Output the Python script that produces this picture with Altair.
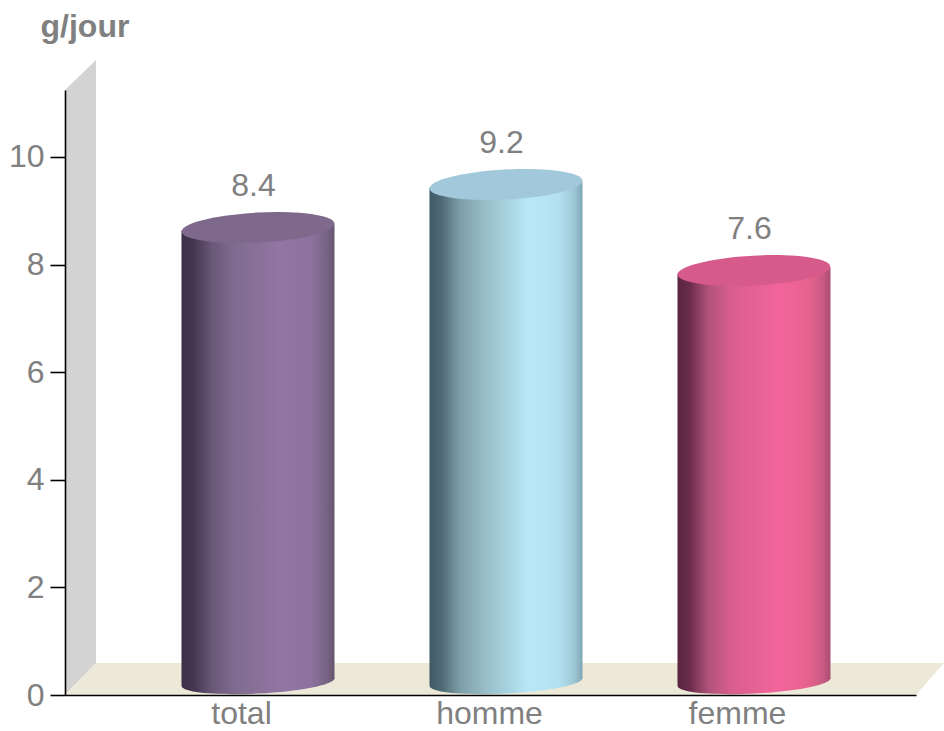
import altair as alt
import pandas as pd

categories = ["total", "homme", "femme"]
values = [8.4, 9.2, 7.6]
tops = ["#7e688c", "#a2c9db", "#d65a8a"]
shades = [
    ["#3c2f47", "#45364f", "#6a5878", "#806c90", "#9276a3", "#8c729c", "#776384", "#66556f"],
    ["#3f5a64", "#4f6a74", "#7d9fa9", "#96bbc5", "#b8e8f8", "#b2e0f0", "#9cc5d4", "#7fa5b4"],
    ["#5a2540", "#6b2c4b", "#b0527a", "#d85e8d", "#f2659b", "#e8628f", "#c95a83", "#a84e70"],
]
shade_offsets = [0, 0.08, 0.2, 0.35, 0.65, 0.85, 0.95, 1]
y_ticks = [0, 2, 4, 6, 8, 10]

FONT = "Liberation Sans"
GREY = "#808080"
TEXT_SIZE = 32

# Scales: one x unit is the spacing between categories, y is in g/jour.
X_MIN, X_MAX = -0.7097, 2.7218
Y_MAX = 11.245
x_scale = alt.Scale(domain=[X_MIN, X_MAX], nice=False, zero=False)
y_scale = alt.Scale(domain=[0, Y_MAX], nice=False, zero=False)

# Oblique depth of the box, and of the cylinders standing inside it.
BOX_DX, BOX_DY = 0.125, 0.595
BOX_END_DX = 0.113
BOX_TOP_DY = 0.558
CYL_DX, CYL_DY = 0.0685, 0.288
CYL_BASE = 0.24
CYL_RADIUS = 0.3085
CYL_TILT = 0.06
CYL_DIAMETER_PX = 153

TOP_ELLIPSE = "M-1,0 A1,0.196 0 1 0 1,0 A1,0.196 0 1 0 -1,0 Z"
BASE_ELLIPSE = "M-1,0 A1,0.15 0 1 0 1,0 A1,0.15 0 1 0 -1,0 Z"

label_lookup = "[" + ",".join(f"'{c}'" for c in categories) + "][datum.value]"
x_axis = alt.Axis(
    values=[0, 1, 2], labelExpr=label_lookup, title=None, grid=False, ticks=False,
    domainColor="#000000", domainWidth=1.6, labelFont=FONT, labelFontSize=TEXT_SIZE,
    labelColor=GREY, labelPadding=3, labelBaseline="top", zindex=1,
)
y_axis = alt.Axis(
    values=y_ticks, title="g/jour", titleAngle=0, titleFont=FONT, titleFontSize=TEXT_SIZE,
    titleFontWeight="bold", titleColor=GREY, titleAlign="left", titleBaseline="alphabetic",
    titleX=-25, titleY=-54, grid=False, domainColor="#000000", domainWidth=1.6,
    tickColor="#000000", tickWidth=1.6, tickSize=15, labelFont=FONT, labelFontSize=TEXT_SIZE,
    labelColor=GREY, labelPadding=6, format="d", zindex=1,
)
x_enc = alt.X("x:Q", scale=x_scale, axis=x_axis)


def gradient(colors):
    return alt.Gradient(
        gradient="linear",
        x1=0, x2=1, y1=0, y2=0,
        stops=[alt.GradientStop(color=c, offset=o) for c, o in zip(colors, shade_offsets)],
    )


def area_layer(frame, fill):
    return alt.Chart(frame).mark_area(fill=fill, line=False, opacity=1).encode(
        x=x_enc,
        y=alt.Y("y:Q", scale=y_scale, axis=y_axis),
        y2="y2:Q",
    )


def ellipse_layer(frame, fill, shape):
    return alt.Chart(frame).mark_point(
        shape=shape, size=CYL_DIAMETER_PX ** 2, angle=357,
        filled=True, fill=fill, strokeWidth=0, opacity=1,
    ).encode(
        x=x_enc,
        y=alt.Y("y:Q", scale=y_scale, axis=y_axis),
    )


wall = area_layer(pd.DataFrame({
    "x": [X_MIN, X_MIN + BOX_DX],
    "y": [Y_MAX, Y_MAX + BOX_TOP_DY],
    "y2": [0, BOX_DY],
}), "#d3d3d3")

floor = area_layer(pd.DataFrame({
    "x": [X_MIN, X_MIN + BOX_DX, X_MAX, X_MAX + BOX_END_DX],
    "y": [0, BOX_DY, BOX_DY, BOX_DY],
    "y2": [0, 0, 0, BOX_DY],
}), "#ece9d8")

layers = [wall, floor]

for i, (name, value) in enumerate(zip(categories, values)):
    cx = i + CYL_DX
    fill = gradient(shades[i])
    side = pd.DataFrame({
        "x": [cx - CYL_RADIUS, cx + CYL_RADIUS],
        "y": [value + CYL_DY - CYL_TILT, value + CYL_DY + CYL_TILT],
        "y2": [CYL_BASE - CYL_TILT, CYL_BASE + CYL_TILT],
    })
    layers.append(ellipse_layer(pd.DataFrame({"x": [cx], "y": [CYL_BASE]}), fill, BASE_ELLIPSE))
    layers.append(area_layer(side, fill))
    layers.append(ellipse_layer(pd.DataFrame({"x": [cx], "y": [value + CYL_DY]}), tops[i], TOP_ELLIPSE))

labels = alt.Chart(pd.DataFrame({"x": [0, 1, 2], "value": values})).mark_text(
    font=FONT, fontSize=TEXT_SIZE, color=GREY, baseline="alphabetic", align="center", dx=12.5, dy=-47,
).encode(
    x=x_enc,
    y=alt.Y("value:Q", scale=y_scale, axis=y_axis),
    text=alt.Text("value:Q", format=".1f"),
)
layers.append(labels)

chart = alt.layer(*layers).properties(
    width=851,
    height=605,
    background="#ffffff",
    padding={"left": 65, "top": 90, "right": 28, "bottom": 36},
    autosize=alt.AutoSizeParams(type="none"),
).configure_view(stroke=None)

chart.save("out.html", embed_options={"renderer": "svg", "actions": False})
